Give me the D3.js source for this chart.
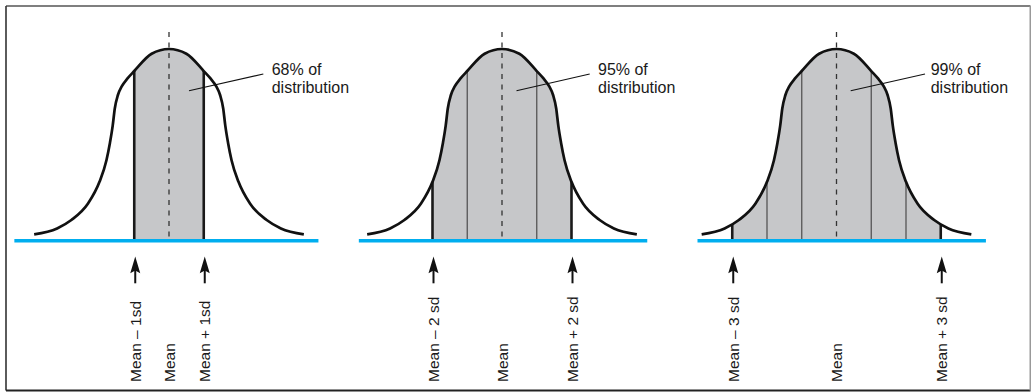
<!DOCTYPE html>
<html>
<head>
<meta charset="utf-8">
<script src="https://cdn.jsdelivr.net/npm/d3@7/dist/d3.min.js"></script>
<style>
  html, body { margin: 0; padding: 0; background: #fff; }
  svg { display: block; }
  text { font-family: "Liberation Sans", Arial, Helvetica, sans-serif; fill: #1a1a1a; }
</style>
</head>
<body>
<svg id="chart" width="1031" height="392"></svg>
<script>
// ---- data ----
// standardised curve outline (z in sd units, relative height of the bell)
const curveZ = [-3.88, -3.22, -2.81, -2.33, -2.0, -1.8, -1.7, -1.62, -1.56, -1.47, -1.36, -1.2, -1.0, -0.5, 0, 0.5, 1.0, 1.2, 1.36, 1.47, 1.56, 1.62, 1.7, 1.8, 2.0, 2.33, 2.81, 3.22, 3.88];
const curveH = [0.033, 0.064, 0.108, 0.194, 0.307, 0.42, 0.51, 0.60, 0.69, 0.76, 0.805, 0.845, 0.885, 0.975, 1, 0.975, 0.885, 0.845, 0.805, 0.76, 0.69, 0.60, 0.51, 0.42, 0.307, 0.194, 0.108, 0.064, 0.033];
const sdRanges = [1, 2, 3];
const percentLines = [["68% of", "distribution"], ["95% of", "distribution"], ["99% of", "distribution"]];
const bottomLabels = [
  ["Mean – 1sd", "Mean", "Mean + 1sd"],
  ["Mean – 2 sd", "Mean", "Mean + 2 sd"],
  ["Mean – 3 sd", "Mean", "Mean + 3 sd"]
];

// ---- layout ----
const W = 1031, H = 392;
const panelMeans = [169, 502, 836.5];
const sdPx = 34.75;
const baselineY = 240.7, peakY = 49;
const axisExtent = [[-4.45, 4.3], [-4.12, 4.18], [-4.0, 4.3]];
const textOffset = [102.7, 96, 94.2];
const leaderStart = [20, 14.5, 14.2];
const leaderEnd = [94.3, 87.7, 88.5];

const svg = d3.select("#chart");
const defs = svg.append("defs");

// frame
svg.append("line").attr("x1", 6).attr("x2", 1030.5).attr("y1", 6).attr("y2", 6).attr("stroke", "#555").attr("stroke-width", 1.6);
svg.append("line").attr("x1", 6).attr("x2", 6).attr("y1", 6).attr("y2", 390.5).attr("stroke", "#333").attr("stroke-width", 1.6);
svg.append("line").attr("x1", 6).attr("x2", 1030.5).attr("y1", 390.5).attr("y2", 390.5).attr("stroke", "#222").attr("stroke-width", 2);
svg.append("line").attr("x1", 1030.3).attr("x2", 1030.3).attr("y1", 6).attr("y2", 390.5).attr("stroke", "#999").attr("stroke-width", 1.6);

const y = d3.scaleLinear().domain([0, 1]).range([baselineY, peakY]);
const pts = curveZ.map((z, i) => [z, curveH[i]]);

sdRanges.forEach((k, p) => {
  const m = panelMeans[p];
  const x = d3.scaleLinear().domain([-1, 1]).range([m - sdPx, m + sdPx]);
  const g = svg.append("g");

  const area = d3.area().x(d => x(d[0])).y0(baselineY).y1(d => y(d[1])).curve(d3.curveMonotoneX);
  const line = d3.line().x(d => x(d[0])).y(d => y(d[1])).curve(d3.curveMonotoneX);

  // clip under the curve
  const cid = "under" + p;
  defs.append("clipPath").attr("id", cid).append("path").attr("d", area(pts));
  const rid = "range" + p;
  defs.append("clipPath").attr("id", rid).append("rect")
    .attr("x", x(-k)).attr("y", 0).attr("width", x(k) - x(-k)).attr("height", baselineY);

  // shaded region
  g.append("path").attr("d", area(pts)).attr("fill", "#c6c7c9").attr("clip-path", `url(#${rid})`);

  // vertical sd lines
  const ticks = d3.range(-k, k + 1).filter(t => t !== 0);
  const vg = g.append("g").attr("clip-path", `url(#${cid})`);
  ticks.forEach(t => {
    const outer = Math.abs(t) === k;
    vg.append("line")
      .attr("x1", x(t)).attr("x2", x(t))
      .attr("y1", 0).attr("y2", baselineY)
      .attr("stroke", outer ? "#1a1a1a" : "#555")
      .attr("stroke-width", outer ? 2.6 : 1.3);
  });

  // dashed mean line
  g.append("line")
    .attr("x1", x(0)).attr("x2", x(0))
    .attr("y1", 32).attr("y2", baselineY)
    .attr("stroke", "#333").attr("stroke-width", 1.3)
    .attr("stroke-dasharray", "5,5.5");

  // curve
  g.append("path").attr("d", line(pts)).attr("fill", "none")
    .attr("stroke", "#111").attr("stroke-width", 2.7);

  // baseline
  g.append("line")
    .attr("x1", x(axisExtent[p][0])).attr("x2", x(axisExtent[p][1]))
    .attr("y1", baselineY).attr("y2", baselineY)
    .attr("stroke", "#00aeef").attr("stroke-width", 3.6);

  // annotation
  g.append("line")
    .attr("x1", m + leaderStart[p]).attr("y1", 90.7)
    .attr("x2", m + leaderEnd[p]).attr("y2", 74)
    .attr("stroke", "#111").attr("stroke-width", 1.1);
  const t = g.append("text").attr("x", m + textOffset[p]).attr("y", 75).style("font-size", "16px");
  percentLines[p].forEach((s, i) => {
    t.append("tspan").attr("x", m + textOffset[p]).attr("dy", i === 0 ? 0 : 18.3).text(s);
  });

  // arrows at -k and +k
  [-k, k].forEach(z => {
    const ax = x(z) + 1;
    g.append("line").attr("x1", ax).attr("x2", ax).attr("y1", 270).attr("y2", 283.3)
      .attr("stroke", "#111").attr("stroke-width", 2);
    g.append("path")
      .attr("d", `M${ax},256.5 L${ax + 5},273.2 L${ax},270.5 L${ax - 5},273.2 Z`)
      .attr("fill", "#111");
  });

  // rotated labels
  [-k, 0, k].forEach((z, i) => {
    const lx = x(z) + (z === 0 ? 0 : 1);
    g.append("text")
      .attr("transform", `translate(${lx},382) rotate(-90)`)
      .attr("dy", "0.36em")
      .style("font-size", "15.5px")
      .text(bottomLabels[p][i]);
  });
});
</script>
</body>
</html>
